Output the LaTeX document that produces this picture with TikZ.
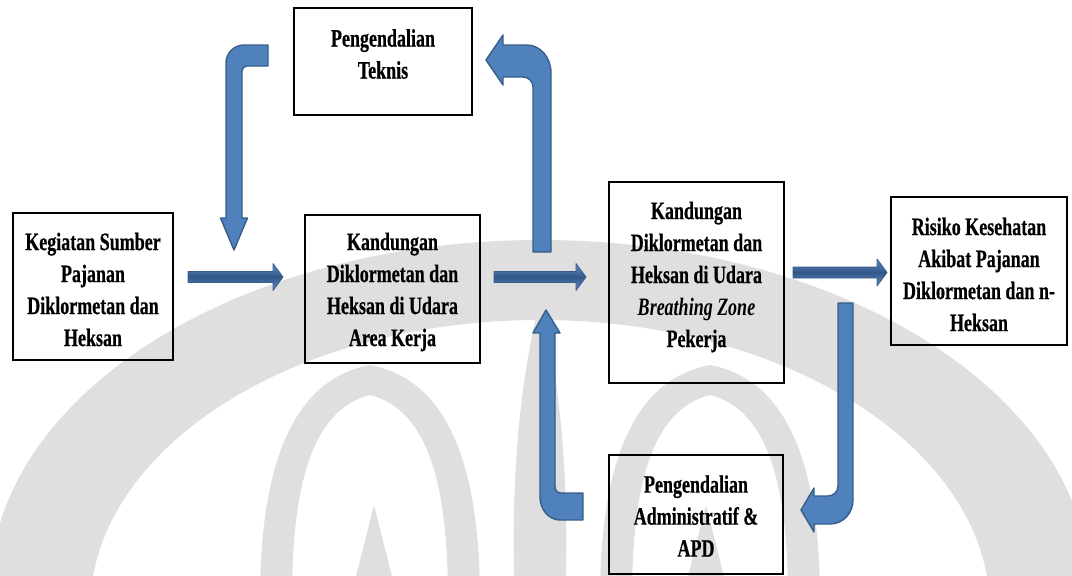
\documentclass[tikz,border=0pt]{standalone}
\usepackage{fontspec}
\setmainfont{Liberation Serif}[FakeStretch=0.72, BoldFeatures={FakeBold=0.6}]
\usetikzlibrary{calc}

\definecolor{arrowfill}{RGB}{79,129,189}
\definecolor{arrowline}{RGB}{56,93,138}
\definecolor{shaftedge}{RGB}{100,142,198}
\definecolor{shaftmid}{RGB}{50,86,136}
\definecolor{markgray}{RGB}{223,223,223}

\tikzset{
  box/.style={draw=black, line width=2.6pt, inner sep=0pt, outer sep=0pt},
  txt/.style={font=\bfseries\fontsize{25}{32}\selectfont, align=center, inner sep=0pt},
  bentarrow/.style={fill=arrowfill, draw=arrowline, line width=1.4pt, line join=round},
  flatarrow/.style={top color=shaftedge, bottom color=shaftedge, middle color=shaftmid,
    draw=arrowline, line width=0.8pt, line join=round},
  watermark/.style={fill=markgray, even odd rule}
}

% straight block arrow from a tail point to a tip point (pointing right)
\newcommand\blockarrow[2]{%
  \path[flatarrow] ($(#1)+(0,-5.5)$) -- ($(#2)+(-10,-5.5)$) -- ($(#2)+(-10,-13.5)$)
    -- (#2) -- ($(#2)+(-10,13.5)$) -- ($(#2)+(-10,5.5)$) -- ($(#1)+(0,5.5)$) -- cycle;}

\begin{document}
\begin{tikzpicture}[x=1pt, y=-1pt]
\useasboundingbox (0,0) rectangle (1072,576);

% faint emblem in the background
\begin{scope}
  \clip (0,0) rectangle (1072,576);
  % outer dome band
  \fill[watermark] (540,590) ellipse[x radius=550, y radius=350]
                   (540,610) ellipse[x radius=450, y radius=290];
  % left and right inner leaves, each with an open centre and a spike
  \foreach \s in {1,-1}{
    \begin{scope}[shift={(540,0)}, xscale=\s]
      \fill[watermark] (-170,365) .. controls (-90,380) and (-60,470) .. (-60,600)
                       -- (-280,600) .. controls (-280,470) and (-250,380) .. (-170,365) -- cycle
                       (-170,395) .. controls (-110,410) and (-92,490) .. (-92,600)
                       -- (-248,600) .. controls (-248,490) and (-230,410) .. (-170,395) -- cycle;
      \fill[markgray] (-190,600) -- (-166,505) -- (-142,600) -- cycle;
    \end{scope}}
  % central flame
  \fill[markgray] (540,300) .. controls (560,380) and (570,480) .. (565,600) -- (515,600)
                  .. controls (510,480) and (520,380) .. (540,300) -- cycle;
\end{scope}

% boxes
\node[box, minimum width=160, minimum height=147] (B1) at (93,286.5) {};
\node[box, minimum width=175, minimum height=148] (B2) at (392.5,289) {};
\node[box, minimum width=178, minimum height=107] (BT) at (383,61.5) {};
\node[box, minimum width=175, minimum height=201] (B3) at (696.5,282.5) {};
\node[box, minimum width=176, minimum height=148] (B4) at (979,271) {};
\node[box, minimum width=174, minimum height=119] (BB) at (696,514.5) {};

% box texts
\node[txt] (t1) at ($(B1.center)+(0,3)$) {Kegiatan Sumber\\Pajanan\\Diklormetan dan\\Heksan};
\node[txt] (t2) at ($(B2.center)+(0,3)$) {Kandungan\\Diklormetan dan\\Heksan di Udara\\Area Kerja};
\node[txt] (tT) at ($(BT.center)+(0,-7.5)$) {Pengendalian\\Teknis};
\node[txt] (t3) at ($(B3.center)+(0,-5.5)$) {Kandungan\\Diklormetan dan\\Heksan di Udara\\\textit{Breathing Zone}\\Pekerja};
\node[txt] (t4) at ($(B4.center)+(0,3.5)$) {Risiko Kesehatan\\Akibat Pajanan\\Diklormetan dan n-\\Heksan};
\node[txt] (tB) at ($(BB.center)+(0,1.5)$) {Pengendalian\\Administratif \&\\APD};

% straight arrows between the boxes
\coordinate (a1s) at ($(B1.east)+(15,-9.5)$);
\coordinate (a1e) at ($(B2.west)+(-22,-12)$);
\coordinate (a2s) at ($(B2.east)+(14,-12)$);
\coordinate (a2e) at ($(B3.west)+(-23,-5.5)$);
\coordinate (a3s) at ($(B3.east)+(9,-10)$);
\coordinate (a3e) at ($(B4.west)+(-4,1.5)$);
\blockarrow{a1s}{a1e}
\blockarrow{a2s}{a2e}
\blockarrow{a3s}{a3e}

% bent arrow: from the engineering control down to the work area input
\path[bentarrow] (268,45) -- (244,45) .. controls (234.1,45) and (226,53) .. (226,63)
  -- (226,218) -- (220.5,218) -- (234,250) -- (247.5,218) -- (242,218) -- (242,71)
  .. controls (242,68.2) and (244.2,66) .. (247,66) -- (268,66) -- cycle;

% bent arrow: from the work area output up to the engineering control
\path[bentarrow] (503,45) -- (527,45) .. controls (540.3,45) and (551,57.5) .. (551,73)
  -- (551,252) -- (533,252) -- (533,87) .. controls (533,81.5) and (528.5,77) .. (523,77)
  -- (503,77) -- (503,85) -- (486,60) -- (503,35) -- cycle;

% bent arrow: from the administrative control up to the breathing zone input
\path[bentarrow] (546,310) -- (560,333) -- (555,333) -- (555,487)
  .. controls (555,490.3) and (557.7,493) .. (561,493) -- (583,493) -- (583,520) -- (560,520)
  .. controls (549,520) and (540,509.7) .. (540,497) -- (540,333) -- (533,333) -- cycle;

% bent arrow: from the breathing zone output down to the administrative control
\path[bentarrow] (838,303) -- (853,303) -- (853,500)
  .. controls (853,513.3) and (843,524) .. (830,524) -- (814,524) -- (814,532) -- (801,510)
  -- (814,488) -- (814,496) -- (828,496) .. controls (833.5,496) and (838,491.5) .. (838,486)
  -- cycle;
\end{tikzpicture}
\end{document}
